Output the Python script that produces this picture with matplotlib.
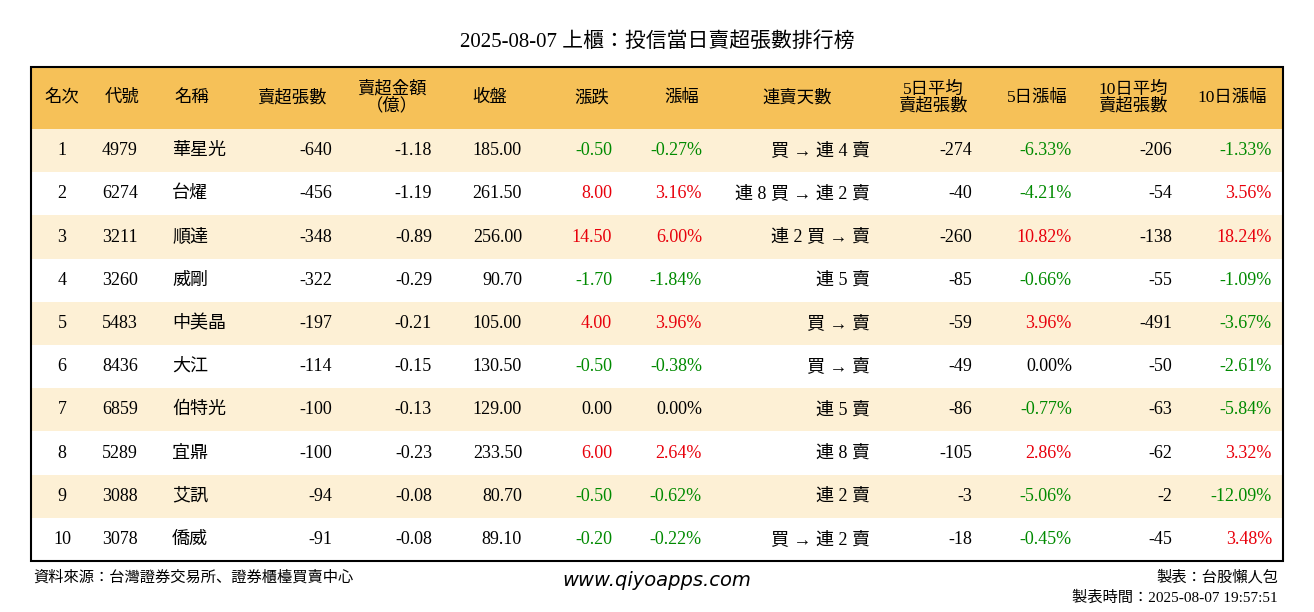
import matplotlib
matplotlib.use("Agg")
import matplotlib.pyplot as plt
from matplotlib.patches import Rectangle
from matplotlib import font_manager as fm

names_avail = sorted({f.name for f in fm.fontManager.ttflist})
cjk = [n for n in names_avail if "CJK" in n]
plt.rcParams["font.family"] = ["Liberation Serif"] + (cjk if cjk else ["Noto Sans CJK TC"])

title = "2025-08-07 上櫃：投信當日賣超張數排行榜"
headers = ["名次", "代號", "名稱", "賣超張數", "賣超金額\n（億）", "收盤", "漲跌", "漲幅",
           "連賣天數", "5日平均\n賣超張數", "5日漲幅", "10日平均\n賣超張數", "10日漲幅"]
ranks = [1, 2, 3, 4, 5, 6, 7, 8, 9, 10]
codes = ["4979", "6274", "3211", "3260", "5483", "8436", "6859", "5289", "3088", "3078"]
names = ["華星光", "台燿", "順達", "威剛", "中美晶", "大江", "伯特光", "宜鼎", "艾訊", "僑威"]
net_sell = [-640, -456, -348, -322, -197, -114, -100, -100, -94, -91]
amount = [-1.18, -1.19, -0.89, -0.29, -0.21, -0.15, -0.13, -0.23, -0.08, -0.08]
close = [185.00, 261.50, 256.00, 90.70, 105.00, 130.50, 129.00, 233.50, 80.70, 89.10]
change = [-0.50, 8.00, 14.50, -1.70, 4.00, -0.50, 0.00, 6.00, -0.50, -0.20]
pct = [-0.27, 3.16, 6.00, -1.84, 3.96, -0.38, 0.00, 2.64, -0.62, -0.22]
streak = ["買 → 連 4 賣", "連 8 買 → 連 2 賣", "連 2 買 → 賣", "連 5 賣", "買 → 賣",
          "買 → 賣", "連 5 賣", "連 8 賣", "連 2 賣", "買 → 連 2 賣"]
avg5 = [-274, -40, -260, -85, -59, -49, -86, -105, -3, -18]
pct5 = [-6.33, -4.21, 10.82, -0.66, 3.96, 0.00, -0.77, 2.86, -5.06, -0.45]
avg10 = [-206, -54, -138, -55, -491, -50, -63, -62, -2, -45]
pct10 = [-1.33, 3.56, 18.24, -1.09, -3.67, -2.61, -5.84, 3.32, -12.09, 3.48]

W, H = 1314, 612
fig = plt.figure(figsize=(W / 100, H / 100), dpi=100)
ax = fig.add_axes([0, 0, 1, 1])
ax.set_xlim(0, W)
ax.set_ylim(H, 0)
ax.axis("off")

RED, GREEN, BLACK = "#e8000b", "#008a00", "#000000"
def col(v):
    return RED if v > 0 else (GREEN if v < 0 else BLACK)

x0, x1 = 31, 1283
hy0, hy1 = 67, 129
rh = 43.2
ax.add_patch(Rectangle((x0, hy0), x1 - x0, hy1 - hy0, fc="#f6c158", ec="none"))
for i in range(10):
    y = hy1 + i * rh
    fc = "#fdf0d5" if i % 2 == 0 else "white"
    ax.add_patch(Rectangle((x0, y), x1 - x0, rh, fc=fc, ec="none"))
ax.add_patch(Rectangle((x0, hy0), x1 - x0, hy1 + 10 * rh - hy0, fc="none", ec="black", lw=1.5))

ax.text(W / 2, 42, title, ha="center", va="center", fontsize=15)

hx = [62, 122, 192, 292, 392, 490, 592, 682, 797, 933, 1037, 1133, 1232]
for x, h in zip(hx, headers):
    ax.text(x, (hy0 + hy1) / 2, h, ha="center", va="center", fontsize=12.5, linespacing=1.0)

fs = 13
for i in range(10):
    y = hy1 + i * rh + rh / 2
    ax.text(62, y, str(ranks[i]), ha="center", va="center", fontsize=fs)
    ax.text(102, y, codes[i], ha="left", va="center", fontsize=fs)
    ax.text(172, y, names[i], ha="left", va="center", fontsize=fs)
    ax.text(332, y, f"{net_sell[i]}", ha="right", va="center", fontsize=fs)
    ax.text(432, y, f"{amount[i]:.2f}", ha="right", va="center", fontsize=fs)
    ax.text(522, y, f"{close[i]:.2f}", ha="right", va="center", fontsize=fs)
    ax.text(612, y, f"{change[i]:.2f}", ha="right", va="center", fontsize=fs, color=col(change[i]))
    ax.text(702, y, f"{pct[i]:.2f}%", ha="right", va="center", fontsize=fs, color=col(pct[i]))
    ax.text(870, y, streak[i], ha="right", va="center", fontsize=fs)
    ax.text(972, y, f"{avg5[i]}", ha="right", va="center", fontsize=fs)
    ax.text(1072, y, f"{pct5[i]:.2f}%", ha="right", va="center", fontsize=fs, color=col(pct5[i]))
    ax.text(1172, y, f"{avg10[i]}", ha="right", va="center", fontsize=fs)
    ax.text(1272, y, f"{pct10[i]:.2f}%", ha="right", va="center", fontsize=fs, color=col(pct10[i]))

ax.text(33, 577, "資料來源：台灣證券交易所、證券櫃檯買賣中心", ha="left", va="center", fontsize=11)
ax.text(657, 580, "www.qiyoapps.com", ha="center", va="center", fontsize=14,
        family="DejaVu Sans", style="italic")
ax.text(1278, 577, "製表：台股懶人包", ha="right", va="center", fontsize=11)
ax.text(1278, 598, "製表時間：2025-08-07 19:57:51", ha="right", va="center", fontsize=11)

fig.savefig("out.png", dpi=100)
